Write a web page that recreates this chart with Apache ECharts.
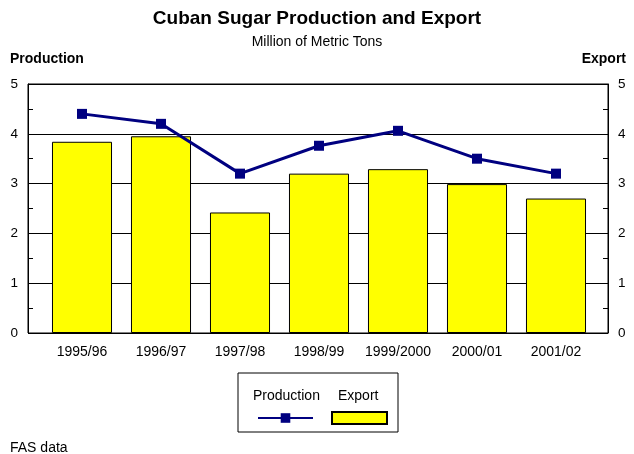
<!DOCTYPE html>
<html>
<head>
<meta charset="utf-8">
<script src="https://cdn.jsdelivr.net/npm/echarts@6/dist/echarts.min.js"></script>
<style>html,body{margin:0;padding:0;background:#fff}#c{width:634px;height:454px}</style>
</head>
<body>
<div id="c"></div>
<script>
var categories = ['1995/96', '1996/97', '1997/98', '1998/99', '1999/2000', '2000/01', '2001/02'];
var production = [4.40, 4.20, 3.20, 3.76, 4.06, 3.50, 3.20];
var exportVals = [3.84, 3.95, 2.42, 3.20, 3.29, 2.99, 2.70];
var yTicks = [0, 1, 2, 3, 4, 5];

var FONT = 'Liberation Sans, Arial, sans-serif';
var chart = echarts.init(document.getElementById('c'), null, {renderer: 'canvas'});
var yMin = yTicks[0], yMax = yTicks[yTicks.length - 1];

function valueAxis(pos) {
  return {
    type: 'value', gridIndex: 0, position: pos, min: yMin, max: yMax, interval: 1,
    axisLine: {show: true, lineStyle: {color: '#000', width: 1}},
    axisTick: {show: true, inside: true, length: 0.01, lineStyle: {color: '#000'}},
    minorTick: {show: true, splitNumber: 2, length: 5, lineStyle: {color: '#000', width: 1}},
    axisLabel: {color: '#000', fontFamily: FONT, fontSize: 13.5, margin: 10},
    splitLine: {show: pos === 'left', lineStyle: {color: '#000', width: 1}}
  };
}

var option = {
  animation: false,
  backgroundColor: '#fff',
  textStyle: {fontFamily: FONT},
  title: [
    {text: 'Cuban Sugar Production and Export', left: 'center', top: 4,
     textStyle: {fontFamily: FONT, fontSize: 19, fontWeight: 'bold', color: '#000'}},
    {text: 'Million of Metric Tons', left: 'center', top: 30,
     textStyle: {fontFamily: FONT, fontSize: 14, fontWeight: 'normal', color: '#000'}},
    {text: 'Production', left: 5, top: 47,
     textStyle: {fontFamily: FONT, fontSize: 14, fontWeight: 'bold', color: '#000'}},
    {text: 'Export', right: 3, top: 47,
     textStyle: {fontFamily: FONT, fontSize: 14, fontWeight: 'bold', color: '#000'}},
    {text: 'FAS data', left: 5, top: 436,
     textStyle: {fontFamily: FONT, fontSize: 14, fontWeight: 'normal', color: '#000'}},
    {text: 'Production', left: 248, top: 384,
     textStyle: {fontFamily: FONT, fontSize: 14, fontWeight: 'normal', color: '#000'}},
    {text: 'Export', left: 333, top: 384,
     textStyle: {fontFamily: FONT, fontSize: 14, fontWeight: 'normal', color: '#000'}}
  ],
  legend: {
    left: 238, top: 373,
    padding: [38, 10, 7, 19],
    itemGap: 17,
    borderColor: '#000', borderWidth: 1,
    itemWidth: 55, itemHeight: 12,
    formatter: function () { return ''; },
    data: [
      {name: 'Production'},
      {name: 'Export', icon: 'rect'}
    ]
  },
  grid: [
    {left: 28, right: 26, top: 84, bottom: 121, show: true, borderColor: '#000', borderWidth: 1, containLabel: false},
    {left: 42.5, right: 38.5, top: 84, bottom: 121, containLabel: false}
  ],
  xAxis: [
    {type: 'value', gridIndex: 0, show: false, min: 0, max: 1},
    {type: 'category', gridIndex: 1, data: categories,
     axisLine: {show: false},
     axisTick: {show: true, inside: true, alignWithLabel: true, length: 9, lineStyle: {color: '#000'}},
     axisLabel: {color: '#000', fontFamily: FONT, fontSize: 14, margin: 12, interval: 0},
     splitLine: {show: false}}
  ],
  yAxis: [
    valueAxis('left'),
    valueAxis('right'),
    {type: 'value', gridIndex: 1, min: yMin, max: yMax, show: false}
  ],
  series: [
    {name: 'Export', type: 'bar', xAxisIndex: 1, yAxisIndex: 2, data: exportVals,
     barWidth: '76%', z: 2,
     itemStyle: {color: '#ffff00', borderColor: '#000', borderWidth: 1}},
    {name: 'Production', type: 'line', xAxisIndex: 1, yAxisIndex: 2, data: production,
     z: 3, symbol: 'rect', symbolSize: 10,
     lineStyle: {color: '#000080', width: 3},
     itemStyle: {color: '#000080'}}
  ]
};
chart.setOption(option);
</script>
</body>
</html>
